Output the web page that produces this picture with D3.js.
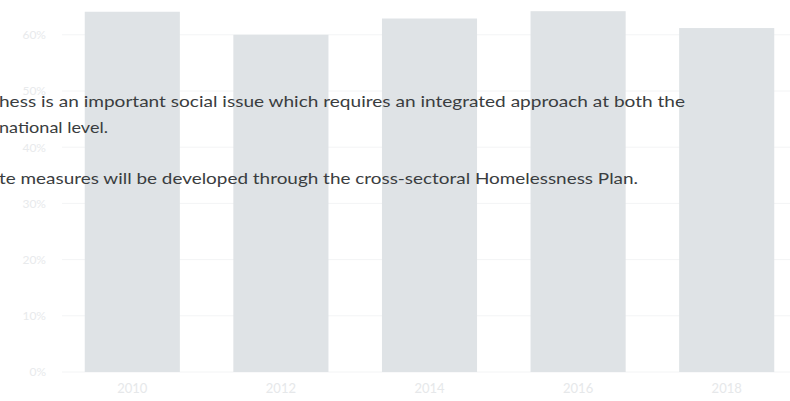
<!DOCTYPE html>
<html>
<head>
<meta charset="utf-8">
<script src="https://cdn.jsdelivr.net/npm/d3@7"></script>
<style>
  html, body { margin: 0; padding: 0; background: #fff; overflow: hidden; }
  svg { display: block; }
</style>
</head>
<body>
<svg id="chart" width="790" height="401"></svg>
<script>
// Share by year (percent)
const years = ["2010", "2012", "2014", "2016", "2018"];
const values = [64.1, 60.0, 62.9, 64.2, 61.2];
const yTicks = [0, 10, 20, 30, 40, 50, 60];

// Paragraph lines laid over the chart
const textLines = [
  "hess is an important social issue which requires an integrated approach at both the",
  "national level.",
  "te measures will be developed through the cross-sectoral Homelessness Plan."
];

const svg = d3.select("#chart");
const W = 790, H = 401;

const x = d3.scaleBand()
  .domain(years)
  .range([58, 801])
  .paddingInner(0.36)
  .paddingOuter(0.18);

const y = d3.scaleLinear()
  .domain([0, 60])
  .range([372, 34.8]);

// faint horizontal gridlines
svg.append("g")
  .selectAll("line")
  .data(yTicks)
  .join("line")
  .attr("x1", 62)
  .attr("x2", W)
  .attr("y1", d => y(d))
  .attr("y2", d => y(d))
  .attr("stroke", "#f3f4f5")
  .attr("stroke-width", 1);

// y axis labels
const yAxis = d3.axisLeft(y)
  .tickValues(yTicks)
  .tickFormat(d => d + "%")
  .tickSize(0)
  .tickPadding(0);
svg.append("g")
  .attr("transform", "translate(46,0)")
  .call(yAxis)
  .call(g => g.select(".domain").remove())
  .call(g => g.selectAll("text")
    .attr("fill", "#e8eaec")
    .attr("font-family", "Lato, 'Open Sans', sans-serif")
    .attr("font-size", 12));

// bars
svg.append("g")
  .selectAll("rect")
  .data(years.map((yr, i) => ({ yr, v: values[i] })))
  .join("rect")
  .attr("x", d => x(d.yr))
  .attr("width", x.bandwidth())
  .attr("y", d => y(d.v))
  .attr("height", d => y(0) - y(d.v))
  .attr("fill", "#dfe3e6");

// x axis labels
const xAxis = d3.axisBottom(x).tickSize(0).tickPadding(0);
svg.append("g")
  .attr("transform", "translate(0,393)")
  .call(xAxis)
  .call(g => g.select(".domain").remove())
  .call(g => g.selectAll("text")
    .attr("dy", 0)
    .attr("fill", "#e6e8ea")
    .attr("font-family", "Lato, 'Open Sans', sans-serif")
    .attr("font-size", 13));

// paragraph text
const lineY = [107, 133, 184];
const lineLen = [686, 109, 639];
svg.append("g")
  .selectAll("text")
  .data(textLines)
  .join("text")
  .attr("x", -1)
  .attr("y", (d, i) => lineY[i])
  .attr("textLength", (d, i) => lineLen[i])
  .attr("lengthAdjust", "spacingAndGlyphs")
  .attr("fill", "#3a3d40")
  .attr("font-family", "Lato, 'Open Sans', sans-serif")
  .attr("font-size", 16)
  .text(d => d);
</script>
</body>
</html>
